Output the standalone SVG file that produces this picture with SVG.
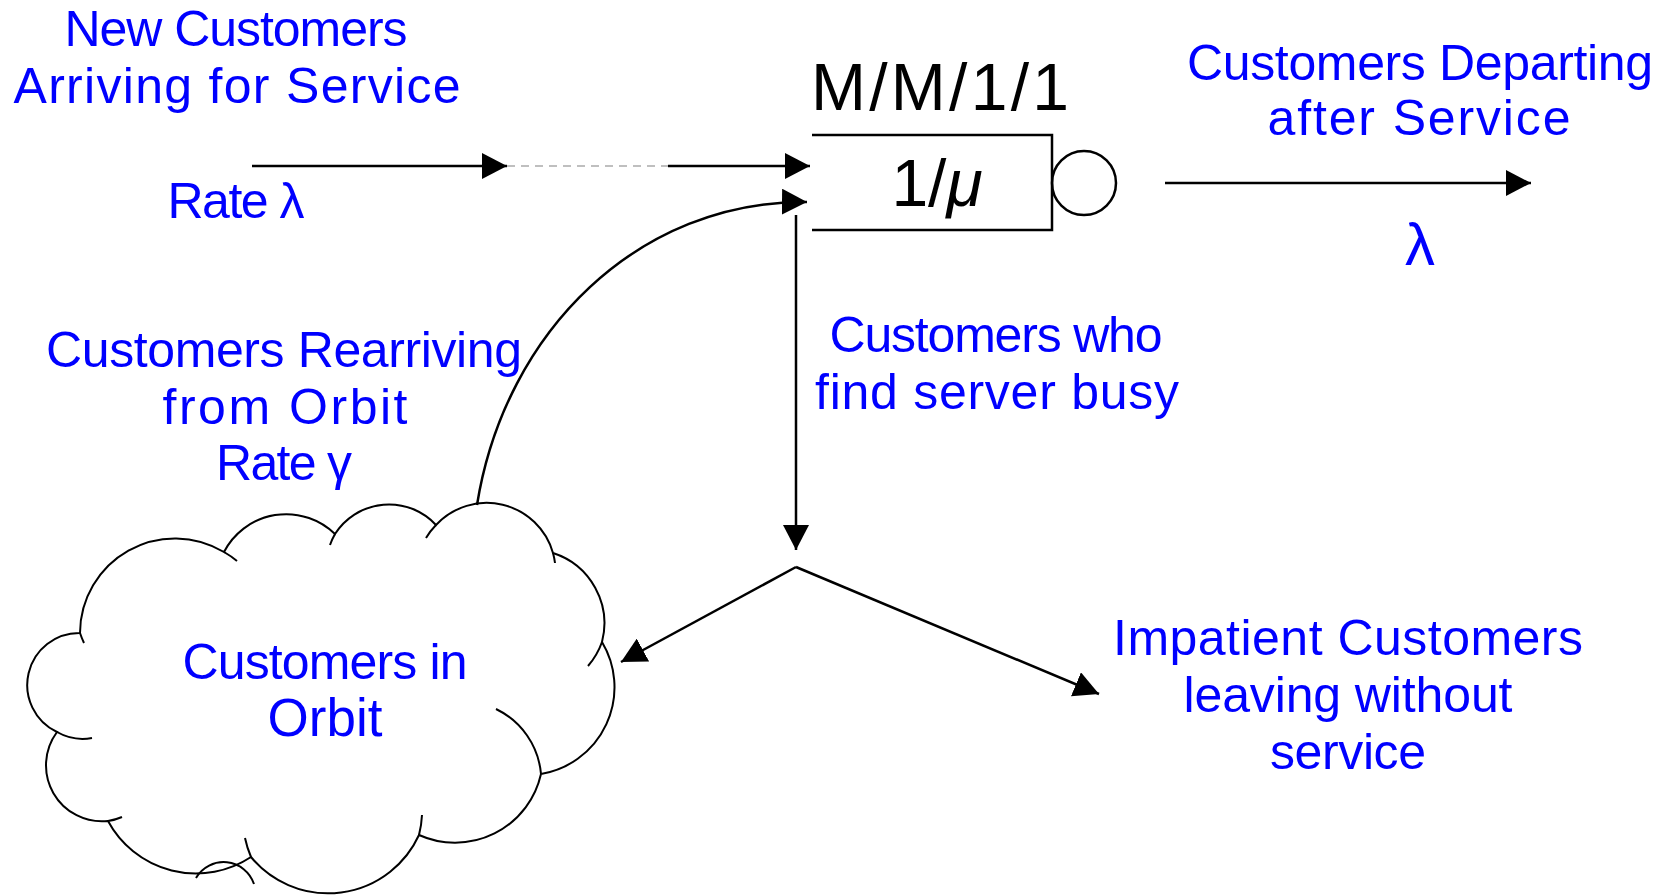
<svg xmlns="http://www.w3.org/2000/svg" width="1671" height="895" viewBox="0 0 1671 895">
  <style>
    .lbl { font-family: "Liberation Sans", Arial, sans-serif; font-size: 50px; fill: #0000ff; text-anchor: middle; }
    .big { font-family: "Liberation Sans", Arial, sans-serif; font-size: 66px; fill: #000; text-anchor: middle; }
    .conn { stroke: #000; stroke-width: 2.5; fill: none; }
    .arrow { marker-end: url(#head); }
    .cloud { stroke: #000; stroke-width: 2; fill: none; }
  </style>
  <defs>
    <marker id="head" markerUnits="userSpaceOnUse" markerWidth="26" markerHeight="26" refX="25" refY="13" orient="auto">
      <path d="M0,0 L25,13 L0,26 Z" fill="#000"/>
    </marker>
  </defs>

  <rect width="1671" height="895" fill="#fff"/>

  <!-- arrival labels -->
  <g id="arrivals">
    <text class="lbl" x="236" y="46" textLength="343">New Customers</text>
    <text class="lbl" x="237" y="103" textLength="447">Arriving for Service</text>
    <text class="lbl" x="236" y="218" textLength="137">Rate λ</text>
  </g>

  <!-- single-server queue with no waiting room -->
  <g id="queue">
    <text class="big" x="940" y="110" textLength="258">M/M/1/1</text>
    <path class="conn" d="M812,135 H1052 V230 H812"/>
    <text class="big" x="937" y="206">1/<tspan font-style="italic">μ</tspan></text>
  </g>

  <g id="server">
    <circle cx="1084" cy="183" r="32" fill="none" stroke="#000" stroke-width="2.5"/>
  </g>

  <g id="departures">
    <text class="lbl" x="1420" y="80" textLength="466">Customers Departing</text>
    <text class="lbl" x="1419" y="135" textLength="303">after Service</text>
    <text class="lbl" x="1420" y="265" style="font-size:60px">λ</text>
  </g>

  <g id="busy">
    <text class="lbl" x="996" y="352" textLength="333">Customers who</text>
    <text class="lbl" x="997" y="409" textLength="364">find server busy</text>
  </g>

  <g id="retrials">
    <text class="lbl" x="284" y="367" textLength="476">Customers Rearriving</text>
    <text class="lbl" x="285" y="424" textLength="245">from Orbit</text>
    <text class="lbl" x="284" y="480" textLength="136">Rate γ</text>
  </g>

  <!-- orbit cloud -->
  <g id="orbit">
    <path class="cloud" d="M80,633 A95,95 0 0,1 224,552 A70,70 0 0,1 335,534 A64,64 0 0,1 436,525 A69,69 0 0,1 553,553 A74,74 0 0,1 602,642 A88,88 0 0,1 541,774 A88,88 0 0,1 419,835 A100,100 0 0,1 251,857 A100,100 0 0,1 108,821 A56,56 0 0,1 57,732 A52,52 0 0,1 80,633"/>
    <path class="cloud" d="M84,643 A95,95 0 0,1 80,633 M224,552 A95,95 0 0,1 237,561 M330,545 A64,64 0 0,1 335,534 M426,538 A69,69 0 0,1 436,525 M553,553 A69,69 0 0,1 555,563 M602,642 A74,74 0 0,1 588,666 M496,709 A80,80 0 0,1 541,774 M422,815 A100,100 0 0,1 419,835 M251,857 A100,100 0 0,1 245,838 M122,817 A56,56 0 0,1 108,821 M92,738 A52,52 0 0,1 57,732 M196,878 A32,32 0 0,1 254,884"/>
    <text class="lbl" x="325" y="679" textLength="285">Customers in</text>
    <text class="lbl" x="325" y="736" style="font-size:53px">Orbit</text>
  </g>

  <g id="impatient">
    <text class="lbl" x="1348" y="655" textLength="470">Impatient Customers</text>
    <text class="lbl" x="1348" y="712" textLength="329">leaving without</text>
    <text class="lbl" x="1348" y="769" textLength="156">service</text>
  </g>

  <!-- connectors -->
  <g id="connectors">
    <line class="conn arrow" x1="252" y1="166" x2="507" y2="166"/>
    <line x1="507" y1="166" x2="668" y2="166" stroke="#aaa" stroke-width="1.5" stroke-dasharray="8 6"/>
    <line class="conn arrow" x1="668" y1="166" x2="810" y2="166"/>
    <path class="conn arrow" d="M477,505 C505,330 640,200 807,202"/>
    <line class="conn arrow" x1="796" y1="215" x2="796" y2="550"/>
    <line class="conn arrow" x1="796" y1="567" x2="621" y2="662"/>
    <line class="conn arrow" x1="796" y1="567" x2="1099" y2="694"/>
    <line class="conn arrow" x1="1165" y1="183" x2="1531" y2="183"/>
  </g>
</svg>
